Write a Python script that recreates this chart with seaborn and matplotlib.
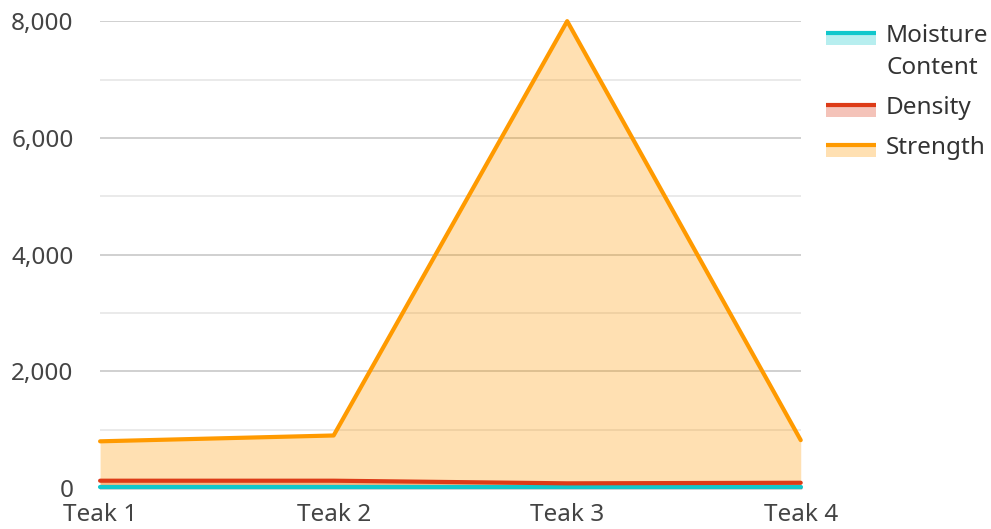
import numpy as np
import matplotlib
matplotlib.use("Agg")
import matplotlib.pyplot as plt
import seaborn as sns
from matplotlib.patches import Rectangle
from matplotlib.lines import Line2D
from matplotlib.ticker import FuncFormatter, MultipleLocator

# data
categories = ["Teak 1", "Teak 2", "Teak 3", "Teak 4"]
moisture = [12, 12, 12, 12]
density = [125, 125, 80, 90]
strength = [800, 900, 8000, 820]

series_names = ["Moisture\nContent", "Density", "Strength"]
series_values = [moisture, density, strength]
colors = ["#11c7cc", "#dd3b17", "#ff9a00"]

W, H = 991, 529
FS = 17.5

sns.set_theme(style="white")
plt.rcParams["font.family"] = ["Noto Sans", "DejaVu Sans"]

fig = plt.figure(figsize=(W / 100, H / 100), dpi=100)
ax = fig.add_axes([0.101, 0.0775, 0.707, 0.8825])

x = np.arange(len(categories))
for name, vals, col in zip(series_names, series_values, colors):
    ax.fill_between(x, 0, vals, color=col, alpha=0.3, lw=0, zorder=2)
    sns.lineplot(x=x, y=vals, ax=ax, color=col, lw=3, zorder=3,
                 legend=False, clip_on=False)

ax.set_xlim(0, 3)
ax.set_ylim(0, 8000)
ax.set_xticks(x)
ax.set_xticklabels(categories)
ax.yaxis.set_major_locator(MultipleLocator(2000))
ax.yaxis.set_minor_locator(MultipleLocator(1000))
ax.yaxis.set_major_formatter(FuncFormatter(lambda v, p: f"{int(v):,}"))
ax.grid(axis="y", which="major", color="#c8c8c8", lw=1.2, zorder=0)
ax.grid(axis="y", which="minor", color="#e6e6e6", lw=1.2, zorder=0)
ax.set_axisbelow(True)
for s in ["top", "right", "left"]:
    ax.spines[s].set_visible(False)
ax.spines["bottom"].set_color("#333333")
ax.spines["bottom"].set_linewidth(1)
ax.spines["bottom"].set_zorder(1)
ax.tick_params(axis="both", length=0, labelsize=FS, colors="#444444")
ax.tick_params(axis="y", pad=19)
ax.tick_params(axis="x", pad=11)
ax.set_xlabel("")
ax.set_ylabel("")


# legend drawn by hand in pixel positions
def fx(px):
    return px / W


def fy(py):
    return 1 - py / H


legend_rows = [(32.5, 33), (104.5, 105), (144.5, 145)]
for (line_y, text_y), name, col in zip(legend_rows, series_names, colors):
    fig.add_artist(Rectangle((fx(826), fy(line_y + 12)), fx(876) - fx(826),
                             fy(line_y) - fy(line_y + 12),
                             facecolor=col, alpha=0.3, edgecolor="none",
                             transform=fig.transFigure))
    fig.add_artist(Line2D([fx(826), fx(876)], [fy(line_y)] * 2, color=col,
                          lw=3, solid_capstyle="butt",
                          transform=fig.transFigure))
    for i, part in enumerate(name.split("\n")):
        fig.text(fx(886), fy(text_y + 32 * i), part, fontsize=FS,
                 color="#333333", ha="left", va="center_baseline")

fig.savefig("out.png", dpi=100)
